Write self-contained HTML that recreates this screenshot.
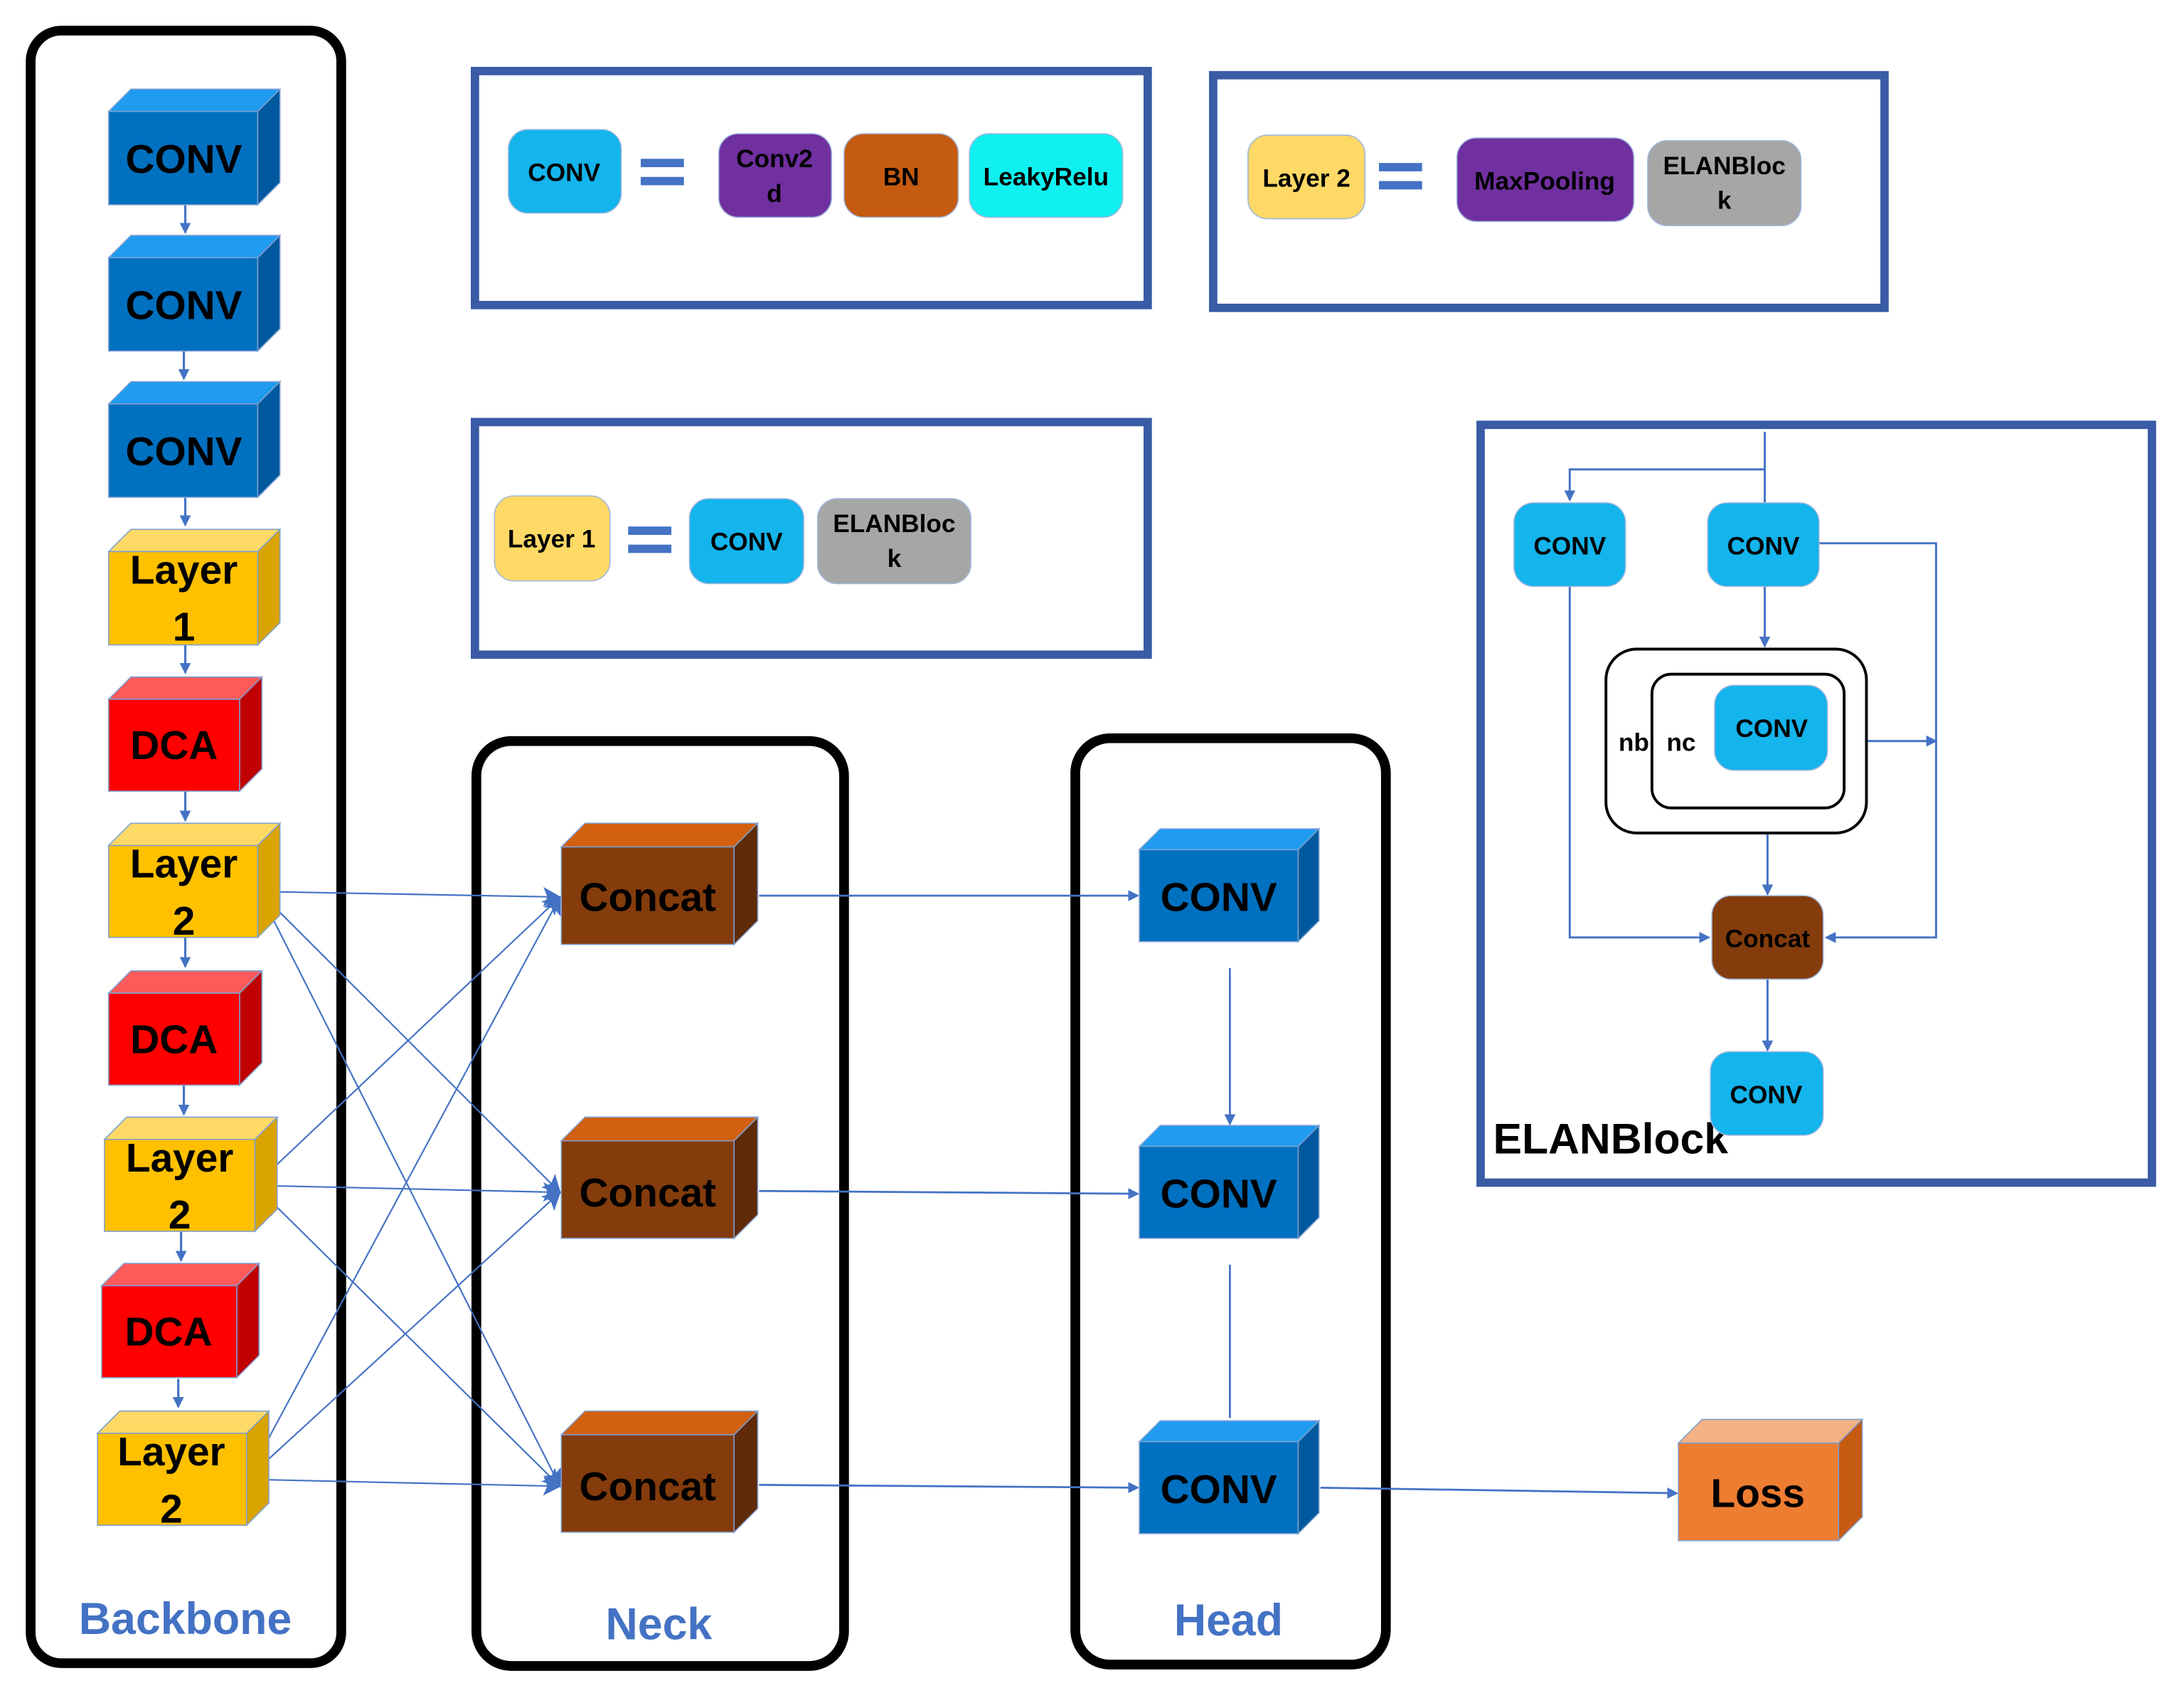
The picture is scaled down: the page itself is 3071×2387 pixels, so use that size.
<!DOCTYPE html>
<html><head><meta charset="utf-8"><style>
html,body{margin:0;padding:0;background:#fff;}
svg{display:block;}
text{font-family:"Liberation Sans",sans-serif;font-weight:bold;}
</style></head><body>
<svg width="3071" height="2387" viewBox="0 0 1568 1219" preserveAspectRatio="none" xmlns="http://www.w3.org/2000/svg">
<defs>
<marker id="a" markerWidth="8" markerHeight="8" refX="7" refY="4" orient="auto" markerUnits="userSpaceOnUse"><path d="M0,0 L8,4 L0,8 z" fill="#4472c4"/></marker>
<marker id="b" markerWidth="14" markerHeight="14" refX="12" refY="7" orient="auto" markerUnits="userSpaceOnUse"><path d="M0,0 L13,7 L0,14 L3,7 z" fill="#4472c4"/></marker>
</defs>
<g fill="none" stroke="#000" stroke-width="7">
<rect x="22" y="22" width="223" height="1172" rx="22"/>
<rect x="342" y="532" width="264" height="664" rx="25"/>
<rect x="772" y="530" width="223" height="665" rx="25"/>
</g>
<g fill="none" stroke="#3a5ba5" stroke-width="6">
<rect x="341" y="51" width="483" height="168"/>
<rect x="871" y="54" width="482" height="167"/>
<rect x="341" y="303" width="483" height="167"/>
<rect x="1063" y="305" width="482" height="544"/>
</g>
<g stroke="#4472c4" stroke-width="1.6" marker-end="url(#a)">
<line x1="133" y1="147" x2="133" y2="167"/>
<line x1="132" y1="252" x2="132" y2="272"/>
<line x1="133" y1="357" x2="133" y2="377"/>
<line x1="133" y1="463" x2="133" y2="483"/>
<line x1="133" y1="568" x2="133" y2="589"/>
<line x1="133" y1="673" x2="133" y2="694"/>
<line x1="132" y1="779" x2="132" y2="800"/>
<line x1="130" y1="884" x2="130" y2="905"/>
<line x1="128" y1="990" x2="128" y2="1010"/>
</g>
<g stroke="#4472c4" stroke-width="1.1" marker-end="url(#b)">
<line x1="186" y1="640" x2="402" y2="644"/>
<line x1="186" y1="640" x2="402" y2="856"/>
<line x1="186" y1="640" x2="402" y2="1067"/>
<line x1="183" y1="851" x2="402" y2="644"/>
<line x1="183" y1="851" x2="402" y2="856"/>
<line x1="183" y1="851" x2="402" y2="1067"/>
<line x1="177" y1="1062" x2="402" y2="644"/>
<line x1="177" y1="1062" x2="402" y2="856"/>
<line x1="177" y1="1062" x2="402" y2="1067"/>
</g>
<g stroke="#4472c4" stroke-width="1.4" marker-end="url(#a)">
<line x1="545" y1="643" x2="817" y2="643"/>
<line x1="545" y1="855" x2="817" y2="857"/>
<line x1="545" y1="1066" x2="817" y2="1068"/>
<line x1="948" y1="1068" x2="1204" y2="1072"/>
<line x1="883" y1="695" x2="883" y2="807"/>
</g>
<line x1="883" y1="908" x2="883" y2="1018" stroke="#4472c4" stroke-width="1.4"/>
<g stroke="#7f9fd0" stroke-width="0.8">
<g><polygon points="78,80 94,64 201,64 185,80" fill="#1f9bf0"/><polygon points="185,80 201,64 201,131 185,147" fill="#00599e"/><rect x="78" y="80" width="107" height="67" fill="#0070c0"/></g>
<g><polygon points="78,185 94,169 201,169 185,185" fill="#1f9bf0"/><polygon points="185,185 201,169 201,236 185,252" fill="#00599e"/><rect x="78" y="185" width="107" height="67" fill="#0070c0"/></g>
<g><polygon points="78,290 94,274 201,274 185,290" fill="#1f9bf0"/><polygon points="185,290 201,274 201,341 185,357" fill="#00599e"/><rect x="78" y="290" width="107" height="67" fill="#0070c0"/></g>
<g><polygon points="78,396 94,380 201,380 185,396" fill="#ffd966"/><polygon points="185,396 201,380 201,447 185,463" fill="#d9a400"/><rect x="78" y="396" width="107" height="67" fill="#ffc000"/></g>
<g><polygon points="78,502 94,486 188,486 172,502" fill="#ff5a5a"/><polygon points="172,502 188,486 188,552 172,568" fill="#c00000"/><rect x="78" y="502" width="94" height="66" fill="#ff0000"/></g>
<g><polygon points="78,607 94,591 201,591 185,607" fill="#ffd966"/><polygon points="185,607 201,591 201,657 185,673" fill="#d9a400"/><rect x="78" y="607" width="107" height="66" fill="#ffc000"/></g>
<g><polygon points="78,713 94,697 188,697 172,713" fill="#ff5a5a"/><polygon points="172,713 188,697 188,763 172,779" fill="#c00000"/><rect x="78" y="713" width="94" height="66" fill="#ff0000"/></g>
<g><polygon points="75,818 91,802 199,802 183,818" fill="#ffd966"/><polygon points="183,818 199,802 199,868 183,884" fill="#d9a400"/><rect x="75" y="818" width="108" height="66" fill="#ffc000"/></g>
<g><polygon points="73,923 89,907 186,907 170,923" fill="#ff5a5a"/><polygon points="170,923 186,907 186,973 170,989" fill="#c00000"/><rect x="73" y="923" width="97" height="66" fill="#ff0000"/></g>
<g><polygon points="70,1029 86,1013 193,1013 177,1029" fill="#ffd966"/><polygon points="177,1029 193,1013 193,1079 177,1095" fill="#d9a400"/><rect x="70" y="1029" width="107" height="66" fill="#ffc000"/></g>
<g><polygon points="403,608 420,591 544,591 527,608" fill="#d2600f"/><polygon points="527,608 544,591 544,661 527,678" fill="#5e2a07"/><rect x="403" y="608" width="124" height="70" fill="#843c0c"/></g>
<g><polygon points="403,819 420,802 544,802 527,819" fill="#d2600f"/><polygon points="527,819 544,802 544,872 527,889" fill="#5e2a07"/><rect x="403" y="819" width="124" height="70" fill="#843c0c"/></g>
<g><polygon points="403,1030 420,1013 544,1013 527,1030" fill="#d2600f"/><polygon points="527,1030 544,1013 544,1083 527,1100" fill="#5e2a07"/><rect x="403" y="1030" width="124" height="70" fill="#843c0c"/></g>
<g><polygon points="818,610 833,595 947,595 932,610" fill="#1f9bf0"/><polygon points="932,610 947,595 947,661 932,676" fill="#00599e"/><rect x="818" y="610" width="114" height="66" fill="#0070c0"/></g>
<g><polygon points="818,823 833,808 947,808 932,823" fill="#1f9bf0"/><polygon points="932,823 947,808 947,874 932,889" fill="#00599e"/><rect x="818" y="823" width="114" height="66" fill="#0070c0"/></g>
<g><polygon points="818,1035 833,1020 947,1020 932,1035" fill="#1f9bf0"/><polygon points="932,1035 947,1020 947,1086 932,1101" fill="#00599e"/><rect x="818" y="1035" width="114" height="66" fill="#0070c0"/></g>
<g><polygon points="1205,1036 1222,1019 1337,1019 1320,1036" fill="#f4b183"/><polygon points="1320,1036 1337,1019 1337,1089 1320,1106" fill="#c55a11"/><rect x="1205" y="1036" width="115" height="70" fill="#ed7d31"/></g>
</g>
<g font-size="29" fill="#000" text-anchor="middle">
<text x="132" y="124">CONV</text>
<text x="132" y="229">CONV</text>
<text x="132" y="334">CONV</text>
<text x="132" y="419">Layer</text><text x="132" y="460">1</text>
<text x="125" y="545">DCA</text>
<text x="132" y="630">Layer</text><text x="132" y="671">2</text>
<text x="125" y="756">DCA</text>
<text x="129" y="841">Layer</text><text x="129" y="882">2</text>
<text x="121" y="966">DCA</text>
<text x="123" y="1052">Layer</text><text x="123" y="1093">2</text>
<text x="465" y="654">Concat</text>
<text x="465" y="866">Concat</text>
<text x="465" y="1077">Concat</text>
<text x="875" y="654">CONV</text>
<text x="875" y="867">CONV</text>
<text x="875" y="1079">CONV</text>
<text x="1262" y="1082">Loss</text>
</g>
<g font-size="32" fill="#4472c4" text-anchor="middle">
<text x="133" y="1173">Backbone</text>
<text x="473" y="1177">Neck</text>
<text x="882" y="1174">Head</text>
</g>
<g stroke="#9fb6dc" stroke-width="0.8">
<rect x="365" y="93" width="81" height="60" rx="14" fill="#14b4ec"/>
<rect x="516" y="96" width="81" height="60" rx="14" fill="#7030a0"/>
<rect x="606" y="96" width="82" height="60" rx="14" fill="#c55a11"/>
<rect x="696" y="96" width="110" height="60" rx="14" fill="#11f0f0"/>
<rect x="896" y="97" width="84" height="60" rx="14" fill="#ffd966"/>
<rect x="1046" y="99" width="127" height="60" rx="14" fill="#7030a0"/>
<rect x="1183" y="101" width="110" height="61" rx="14" fill="#a6a6a6"/>
<rect x="355" y="356" width="83" height="61" rx="14" fill="#ffd966"/>
<rect x="495" y="358" width="82" height="61" rx="14" fill="#14b4ec"/>
<rect x="587" y="358" width="110" height="61" rx="14" fill="#a6a6a6"/>
</g>
<g fill="#4472c4">
<rect x="460" y="114" width="31" height="6"/><rect x="460" y="127" width="31" height="6"/>
<rect x="990" y="117" width="31" height="6"/><rect x="990" y="130" width="31" height="6"/>
<rect x="451" y="378" width="31" height="6"/><rect x="451" y="391" width="31" height="6"/>
</g>
<g font-size="18" fill="#000" text-anchor="middle">
<text x="405" y="130">CONV</text>
<text x="556" y="120">Conv2</text><text x="556" y="145">d</text>
<text x="647" y="133">BN</text>
<text x="751" y="133">LeakyRelu</text>
<text x="938" y="134">Layer 2</text>
<text x="1109" y="136">MaxPooling</text>
<text x="1238" y="125">ELANBloc</text><text x="1238" y="150">k</text>
<text x="396" y="393">Layer 1</text>
<text x="536" y="395">CONV</text>
<text x="642" y="382">ELANBloc</text><text x="642" y="407">k</text>
</g>
<g fill="none" stroke="#4472c4" stroke-width="1.5">
<polyline points="1267,310 1267,361"/>
<polyline points="1267,337 1127,337 1127,359" marker-end="url(#a)"/>
<polyline points="1306,390 1390,390 1390,673 1311,673" marker-end="url(#a)"/>
<line x1="1267" y1="421" x2="1267" y2="464" marker-end="url(#a)"/>
<line x1="1340" y1="532" x2="1390" y2="532" marker-end="url(#a)"/>
<line x1="1269" y1="598" x2="1269" y2="642" marker-end="url(#a)"/>
<polyline points="1127,421 1127,673 1227,673" marker-end="url(#a)"/>
<line x1="1269" y1="703" x2="1269" y2="754" marker-end="url(#a)"/>
</g>
<g fill="none" stroke="#000" stroke-width="2">
<rect x="1153" y="466" width="187" height="132" rx="22"/>
<rect x="1186" y="484" width="138" height="96" rx="14"/>
</g>
<text x="1072" y="828" font-size="31" fill="#000">ELANBlock</text>
<g stroke="#9fb6dc" stroke-width="0.8">
<rect x="1087" y="361" width="80" height="60" rx="14" fill="#14b4ec"/>
<rect x="1226" y="361" width="80" height="60" rx="14" fill="#14b4ec"/>
<rect x="1231" y="492" width="81" height="61" rx="14" fill="#14b4ec"/>
<rect x="1229" y="643" width="80" height="60" rx="14" fill="#843c0c"/>
<rect x="1228" y="755" width="81" height="60" rx="14" fill="#14b4ec"/>
</g>
<g font-size="18" fill="#000" text-anchor="middle">
<text x="1127" y="398">CONV</text>
<text x="1266" y="398">CONV</text>
<text x="1272" y="529">CONV</text>
<text x="1269" y="680">Concat</text>
<text x="1268" y="792">CONV</text>
<text x="1173" y="539">nb</text>
<text x="1207" y="539">nc</text>
</g>
</svg>
</body></html>
